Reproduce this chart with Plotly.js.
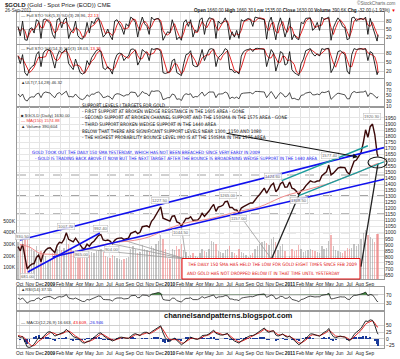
<!DOCTYPE html>
<html><head><meta charset="utf-8">
<script src="https://cdn.plot.ly/plotly-3.0.1.min.js"></script>
<style>html,body{margin:0;padding:0;background:#fff;}#chart{width:400px;height:359px;}</style>
</head><body><div id="chart"></div>
<script>
// ---------- DATA (weekly samples) ----------
const price = [885,850,905,790,700,725,740,745,795,815,760,825,855,872,
875,855,835,895,920,915,945,1000,945,935,925,955,925,898,872,870,905,888,915,930,955,978,985,940,935,940,930,910,937,952,955,957,945,952,955,995,1006,1012,992,1003,1050,1052,1057,1045,1095,1117,1147,1180,1215,1120,1110,1104,
1096,1137,1140,1090,1082,1055,1093,1118,1118,1133,1103,1104,1104,1125,1161,1136,1155,1180,1210,1235,1177,1212,1218,1227,1257,1260,1209,1210,1190,1188,1165,1204,1216,1228,1237,1247,1246,1275,1296,1317,1345,1370,1327,1357,1394,1410,1340,1362,1406,1420,1377,1380,1420,
1369,1361,1342,1315,1348,1360,1388,1409,1429,1421,1419,1428,1429,1473,1486,1504,1560,1480,1493,1511,1536,1542,1541,1539,1500,1486,1541,1592,1602,1628,1663,1745,1852,1790,1878,1900,1813,1657,1630];
const volumeK = [320,300,360,340,380,300,260,240,280,220,240,230,200,150,
160,220,240,260,280,250,270,340,300,260,240,250,230,240,250,200,220,210,230,220,240,250,260,230,200,190,180,210,200,180,170,160,170,180,190,260,280,260,220,230,290,260,250,240,280,270,300,330,380,340,260,180,
170,260,250,280,260,300,250,230,200,210,220,200,190,220,260,240,230,260,330,320,300,240,230,220,250,260,280,230,220,210,260,230,220,210,190,210,220,260,280,300,320,330,310,290,340,360,320,250,280,300,240,180,200,
260,240,250,290,260,230,240,250,260,250,240,230,220,280,260,270,330,380,280,250,240,230,220,240,270,260,270,300,280,300,340,400,420,380,360,340,320,390,390];
const sto5K = [60,25,80,10,8,50,55,35,85,80,15,85,88,80,
70,30,15,85,90,55,85,92,15,40,45,80,25,15,12,30,75,35,80,70,90,92,55,20,30,50,25,10,80,85,70,55,30,70,60,95,88,75,20,65,95,70,60,30,95,85,88,90,70,8,25,40,
35,85,55,10,20,8,75,85,60,85,20,45,40,85,92,30,75,92,90,85,15,80,70,75,92,70,10,40,20,45,15,85,80,85,90,85,60,95,92,90,88,85,12,75,95,45,10,65,92,60,20,50,92,
10,30,15,10,75,70,90,90,92,45,55,75,45,95,85,90,95,8,55,75,92,80,60,55,10,15,92,95,80,88,90,85,95,30,90,60,35,5,28.96];
const sto5D = [55,42,52,45,15,30,50,48,58,75,55,55,80,85,
78,55,35,45,70,75,70,78,60,45,35,55,50,40,20,20,40,50,60,65,78,88,78,55,32,38,35,25,40,65,80,70,50,52,55,75,88,85,60,45,70,80,70,50,60,80,88,88,82,45,30,28,
35,55,70,45,25,15,35,65,75,75,55,38,38,55,78,65,55,70,88,88,58,45,60,75,80,80,50,30,25,32,28,45,75,82,85,88,78,78,88,92,90,88,55,45,70,75,40,35,65,78,50,38,60,
55,28,20,15,35,60,78,88,90,75,55,60,62,65,88,88,90,55,30,55,75,85,75,62,40,20,45,80,88,85,88,88,88,65,60,75,55,30,22.13];
const sto14K = [70,45,75,15,5,25,35,40,75,85,35,80,90,92,
88,60,30,70,88,80,88,95,45,35,25,60,35,15,10,15,55,40,65,75,88,92,85,30,25,35,25,10,55,75,80,78,55,65,70,92,94,88,40,55,92,85,80,55,95,92,95,94,85,15,12,15,
20,55,60,15,10,5,45,75,78,88,40,35,35,65,92,55,75,92,95,92,35,65,72,80,95,90,25,25,15,18,10,70,85,90,92,95,85,95,96,95,94,92,35,65,92,80,20,45,85,80,40,45,85,
25,15,10,5,45,60,88,92,95,78,70,78,70,95,92,95,96,15,30,55,85,88,80,75,20,10,75,95,92,94,95,92,95,55,85,80,40,8,18.03];
const sto14D = [72,60,62,45,30,15,22,33,50,67,65,67,68,88,
90,80,60,55,62,80,85,88,75,58,35,40,40,35,20,13,27,37,53,60,76,85,88,68,47,30,28,23,30,47,70,78,70,66,63,76,85,91,72,60,62,78,85,73,77,80,94,94,91,65,37,14,
16,30,45,43,28,10,20,42,66,80,68,55,37,45,64,70,74,74,87,93,74,64,57,72,82,88,70,47,22,19,14,33,55,82,89,92,91,92,92,95,95,94,74,64,64,79,64,48,50,70,68,55,57,
52,42,17,10,20,37,64,80,92,88,81,75,73,81,86,94,94,69,47,33,57,76,84,81,58,35,35,60,87,94,94,94,94,81,78,73,68,43,13.36];
const ult = [55,45,55,35,30,42,45,44,55,58,42,58,62,60,
58,48,42,56,60,52,58,65,45,46,44,55,45,38,35,40,52,46,55,54,60,62,55,42,44,48,44,36,52,56,55,52,47,52,52,62,62,60,45,52,64,58,56,48,66,64,66,66,60,35,38,42,
42,55,52,36,38,32,50,56,53,56,42,46,45,55,62,48,55,62,62,62,42,55,55,56,62,58,38,44,40,44,38,56,58,58,60,60,55,64,64,64,62,62,42,55,64,52,38,50,60,55,44,48,60,
38,40,36,34,50,52,58,60,62,52,52,55,52,62,60,62,66,36,46,52,58,56,54,52,38,38,58,64,60,62,62,62,66,46,58,55,46,40,46.32];
const rsi = [55,48,55,40,30,38,42,42,52,55,45,56,60,62,
62,55,50,58,62,60,64,72,55,52,50,55,48,42,38,38,48,45,52,55,60,65,63,48,47,48,46,40,50,55,55,55,50,52,53,66,68,68,56,58,70,69,68,62,74,76,79,82,78,48,45,44,
43,54,54,42,40,35,47,53,53,56,47,47,47,53,62,55,59,64,68,70,54,60,61,62,67,66,50,50,46,46,42,54,57,59,61,62,61,67,70,72,74,75,58,64,70,66,50,55,63,62,53,54,62,
48,46,42,37,47,50,57,61,64,61,60,61,61,68,70,72,78,50,52,55,60,61,60,60,50,47,60,68,68,71,74,78,84,66,72,70,56,38,37.55];
const macd = [10,5,8,-10,-30,-32,-28,-20,-8,5,0,8,18,25,
26,20,10,14,20,22,25,35,28,18,8,6,2,-6,-14,-16,-10,-8,-2,4,12,20,22,12,5,0,-3,-8,-4,2,5,6,3,2,2,10,16,19,14,12,20,24,24,18,26,32,38,44,48,22,4,-6,
-10,-2,2,-6,-14,-22,-16,-6,0,6,2,-1,-2,3,12,12,14,18,26,32,20,16,14,14,18,20,6,-2,-8,-12,-16,-8,-2,4,8,12,12,16,22,28,34,40,28,24,28,30,14,10,14,18,10,6,10,
2,-6,-14,-22,-16,-8,2,10,18,18,14,12,10,18,24,28,38,20,8,4,8,10,8,6,-2,-8,2,16,24,30,38,52,66,64,70,68,50,24,16.663];
const signal = [12,9,8,2,-10,-20,-26,-25,-18,-8,-3,3,10,18,
23,23,18,15,16,19,22,28,29,24,16,10,5,-1,-8,-13,-12,-10,-6,-1,6,13,18,16,10,4,0,-4,-5,-2,2,4,4,3,2,5,10,15,15,13,16,20,22,20,22,27,33,39,44,34,18,5,
-3,-3,-1,-3,-8,-15,-16,-11,-5,1,2,1,-1,1,6,10,12,15,21,27,24,20,16,15,16,18,12,4,-2,-7,-12,-10,-6,-1,4,8,10,13,18,23,29,35,32,28,28,29,21,15,14,16,13,9,9,
5,-1,-8,-15,-16,-12,-5,3,11,15,15,13,11,14,19,24,31,26,17,10,9,9,9,7,3,-3,-1,8,16,23,31,42,54,60,65,67,58,44,43.609];
const smaDates = ['2008-10-01','2008-11-01','2008-12-01','2009-01-01','2009-02-01','2009-03-01','2009-04-01','2009-05-01','2009-06-01','2009-07-01','2009-08-01','2009-09-01','2009-10-01','2009-11-01','2009-12-01','2010-01-01','2010-02-01','2010-03-01','2010-04-01','2010-05-01','2010-06-01','2010-07-01','2010-08-01','2010-09-01','2010-10-01','2010-11-01','2010-12-01','2011-01-01','2011-02-01','2011-03-01','2011-04-01','2011-05-01','2011-06-01','2011-07-01','2011-08-01','2011-09-01','2011-09-26'];
const sma150 = [905,880,830,822,820,835,852,868,892,912,924,932,945,968,1002,1038,1068,1088,1100,1115,1135,1158,1178,1195,1215,1250,1288,1318,1340,1362,1385,1410,1443,1473,1503,1548,1575];
// trend lines (end points)
const upperWedgeDates = ['2008-10-02','2011-10-14'], upperWedgeVals = [940,1705];
const lowerWedgeDates = ['2009-01-10','2011-10-14'], lowerWedgeVals = [799,1443];
const steepLineDates = ['2008-10-26','2009-06-02'], steepLineVals = [675,998];
const upperTealDates = ['2010-12-07','2011-08-26'], upperTealVals = [1431,1720];
const lowerTealDates = ['2011-01-28','2011-10-14'], lowerTealVals = [1308,1587];
const supportLevels = [1478,1308,1157,1000];
const fanTouchDates = ['2009-04-06','2009-07-08','2009-08-17','2010-02-05','2010-07-28','2011-01-28','2011-09-26'];
const fanTouchVals = [868,908,935,1048,1160,1310,1577];
const fanAnchorDates = ['2010-02-19','2010-02-19','2010-02-19','2010-02-19','2010-11-06','2010-11-06','2011-08-05'];
const fanAnchorVals = [782,782,782,782,782,782,720];
const fanColors = ['#9a9a9a','#9a9a9a','#9a9a9a','#9a9a9a','#9a9a9a','#222','#222'];
const pivotDates = ['2008-10-10','2008-10-24','2009-02-20','2009-04-06','2009-06-03','2009-07-08','2009-12-03','2010-02-05','2010-06-28','2010-07-28','2010-11-09','2011-01-28','2011-05-02','2011-09-06'];
const pivotVals = [930.5,681,1007.7,865,992.4,904,1227.5,1044.5,1265,1157,1424.6,1308.5,1577.4,1920.3];
const pivotAbove = [1,0,1,0,1,0,1,0,1,0,1,0,1,1];
const priceTicks = [650,700,750,800,850,900,950,1000,1050,1100,1150,1200,1250,1300,1350,1400,1450,1500,1550,1600,1650,1700,1750,1800,1850,1900,1950];
const volTicks = [100000,200000,300000,400000,500000], volTickText = ['100K','200K','300K','400K','500K'];
const monthNames = ['2009','Feb','Mar','Apr','May','Jun','Jul','Aug','Sep','Oct','Nov','Dec'];
const supportText = ['SUPPORT LEVELS / TARGETS FOR GOLD',
 '- FIRST SUPPORT AT BROKEN WEDGE RESISTANCE IN THE 1605 AREA - GONE',
 '- SECOND SUPPORT AT BROKEN CHANNEL SUPPORT AND THE 150SMA IN THE 1575 AREA - GONE',
 '- THIRD SUPPORT BROKEN WEDGE SUPPORT IN THE 1440 AREA',
 'BELOW THAT THERE ARE SIGNIFICANT SUPPORT LEVELS NEAR 1300, 1150 AND 1080',
 '- THE HIGHEST PROBABILITY BOUNCE LEVEL IMO IS AT THE 150SMA IN THE 1575 AREA'];
const blueText = ['GOLD TOOK OUT THE DAILY 150 SMA YESTERDAY, WHICH HAS NOT BEEN BREACHED SINCE VERY EARLY IN 2009',
 '- GOLD IS TRADING BACK ABOVE IT NOW BUT THE NEXT TARGET AFTER THE BOUNCE IS BROADENING WEDGE SUPPORT IN THE 1440 AREA'];
const redText = ['THE DAILY 150 SMA HAS HELD THE LOW FOR GOLD EIGHT TIMES SINCE FEB 2009',
 'AND GOLD HAS NOT DROPPED BELOW IT IN THAT TIME UNTIL YESTERDAY'];

// ---------- dates ----------
const dates = [];
{ let d = Date.UTC(2008,8,26); for (let i=0;i<157;i++){ dates.push(new Date(d).toISOString().slice(0,10)); d += 7*864e5; } dates.push('2011-09-26'); }
const monthTicks = [], monthLabels = [];
for (let k=0;k<36;k++){ const m=(9+k)%12, y=2008+Math.floor((9+k)/12); monthTicks.push(y+'-'+String(m+1).padStart(2,'0')+'-01'); monthLabels.push(m===0?'<b>'+y+'</b>':monthNames[m]); }
const xRange = ['2008-09-23','2011-10-14'];
const H=359, L=17, W=367;
const px = x => (x-L)/W, py = y => 1-y/H;
const dom = (t,b) => [py(b), py(t)];

const NARROW = 'Liberation Sans Narrow, DejaVu Sans Condensed, Arial Narrow, sans-serif';
const SANS = 'Liberation Sans, Arial, sans-serif';

function mkX(anchor, labels){ return {type:'date', range:xRange, anchor, tickvals:monthTicks, ticktext:monthLabels,
 showticklabels:labels, ticks:'', ticklen:0, tickangle:0, showgrid:true, gridcolor:'#e3e3e3', gridwidth:1, showline:true, mirror:true,
 linecolor:'#999', linewidth:1, tickfont:{size:4.8,color:'#222'}, zeroline:false, fixedrange:true}; }
function mkY(anchor, domain, range, tickvals, extra){ return Object.assign({anchor, domain, range, tickvals, side:'right',
 ticks:'', ticklen:0, showgrid:true, gridcolor:'#cfcfcf', gridwidth:1, showline:true, mirror:true, linecolor:'#999', linewidth:1,
 zeroline:false, tickfont:{size:5,color:'#222'}, fixedrange:true}, extra||{}); }

const traces = [];
traces.push({x:dates,y:sto5D,xaxis:'x',yaxis:'y',mode:'lines',line:{color:'#e01010',width:0.9},hoverinfo:'skip'});
traces.push({x:dates,y:sto5K,xaxis:'x',yaxis:'y',mode:'lines',line:{color:'#111',width:0.9},hoverinfo:'skip'});
traces.push({x:dates,y:sto14D,xaxis:'x2',yaxis:'y2',mode:'lines',line:{color:'#e01010',width:0.9},hoverinfo:'skip'});
traces.push({x:dates,y:sto14K,xaxis:'x2',yaxis:'y2',mode:'lines',line:{color:'#111',width:0.9},hoverinfo:'skip'});
traces.push({x:dates,y:ult,xaxis:'x3',yaxis:'y3',mode:'lines',line:{color:'#222',width:0.8},hoverinfo:'skip'});
const volColors = price.map((p,i)=> i>0 && p<price[i-1] ? 'rgba(235,120,120,0.55)' : 'rgba(140,140,140,0.5)');
traces.push({type:'bar',x:dates,y:volumeK.map(v=>v*1000),xaxis:'x4',yaxis:'y4',marker:{color:volColors,line:{width:0}},width:4*864e5,hoverinfo:'skip'});
for (let i=0;i<fanTouchDates.length;i++)
 traces.push({x:[fanTouchDates[i],fanAnchorDates[i]],y:[fanTouchVals[i],fanAnchorVals[i]],xaxis:'x4',yaxis:'y7',mode:'lines',line:{color:fanColors[i],width:i>=5?1.3:0.8},hoverinfo:'skip'});
traces.push({x:dates,y:price,xaxis:'x4',yaxis:'y7',mode:'lines',line:{color:'#3a0808',width:1.4},hoverinfo:'skip'});
traces.push({x:smaDates,y:sma150,xaxis:'x4',yaxis:'y7',mode:'lines',line:{color:'#f08a8a',width:1,shape:'spline'},hoverinfo:'skip'});
traces.push({x:upperWedgeDates,y:upperWedgeVals,xaxis:'x4',yaxis:'y7',mode:'lines',line:{color:'#1010ee',width:1.6},hoverinfo:'skip'});
traces.push({x:lowerWedgeDates,y:lowerWedgeVals,xaxis:'x4',yaxis:'y7',mode:'lines',line:{color:'#1010ee',width:1.6},hoverinfo:'skip'});
traces.push({x:steepLineDates,y:steepLineVals,xaxis:'x4',yaxis:'y7',mode:'lines',line:{color:'#1010ee',width:1.6},hoverinfo:'skip'});
traces.push({x:upperTealDates,y:upperTealVals,xaxis:'x4',yaxis:'y7',mode:'lines',line:{color:'#1a9c9c',width:1.4},hoverinfo:'skip'});
traces.push({x:lowerTealDates,y:lowerTealVals,xaxis:'x4',yaxis:'y7',mode:'lines',line:{color:'#1a9c9c',width:1.4},hoverinfo:'skip'});
traces.push({x:dates,y:dates.map(()=>70),xaxis:'x5',yaxis:'y5',mode:'lines',line:{color:'#888',width:0.6},hoverinfo:'skip'});
traces.push({x:dates,y:rsi.map(v=>Math.max(v,70)),xaxis:'x5',yaxis:'y5',mode:'lines',fill:'tonexty',fillcolor:'#3d8a3d',line:{width:0,color:'#3d8a3d'},hoverinfo:'skip'});
traces.push({x:dates,y:rsi,xaxis:'x5',yaxis:'y5',mode:'lines',line:{color:'#222',width:0.8},hoverinfo:'skip'});
traces.push({type:'bar',x:dates,y:macd.map((v,i)=>v-signal[i]),xaxis:'x6',yaxis:'y6',marker:{color:'#1a3a9a',line:{width:0}},width:6*864e5,hoverinfo:'skip'});
traces.push({x:dates,y:signal,xaxis:'x6',yaxis:'y6',mode:'lines',line:{color:'#e01010',width:0.9},hoverinfo:'skip'});
traces.push({x:dates,y:macd,xaxis:'x6',yaxis:'y6',mode:'lines',line:{color:'#111',width:0.9},hoverinfo:'skip'});

const ann = [];
function t(x,y,text,size,color,opts){ ann.push(Object.assign({xref:'paper',yref:'paper',x:px(x),y:py(y),text,showarrow:false,xanchor:'left',yanchor:'middle',font:{size,color,family:SANS}},opts||{})); }
t(3,4.5,'<b>$GOLD</b> (Gold - Spot Price (EOD)) CME',6,'#222');
t(3,11,'26-Sep-2011',4.6,'#333');
t(398,3.5,'©StockCharts.com',4.6,'#666',{xanchor:'right'});
t(398,10.5,'<b>Open</b> 1660.00 <b>High</b> 1660.30 <b>Low</b> 1535.00 <b>Close</b> 1630.00 <b>Volume</b> 390.6K <b>Chg</b> -32.00 (-1.93%) <span style="color:#e00">▼</span>',4.6,'#222',{xanchor:'right'});
t(19,15.5,'— Full STO %K(5,3) %D(3) 28.96, <span style="color:#e00">22.13</span>',4.3,'#333');
t(19,48.5,'— Full STO %K(14,3) %D(3) 18.03, <span style="color:#e00">13.36</span>',4.3,'#333');
t(19,82,'▲ULT(7,14,28) 46.32',4.3,'#333');
t(19,115,'■ $GOLD (Daily) 1630.00',4.3,'#333');
t(19,120.5,'— MA(150) 1574.88',4.3,'#e33');
t(19,126,'▲ Volume 390,604',4.3,'#333');
t(19,289.5,'▲RSI(14) 37.55',4.3,'#333');
t(19,322,'— MACD(12,26,9) 16.663, <span style="color:#e00">43.609</span>, <span style="color:#22d">-26.946</span>',4.3,'#333');
t(228,315.5,'<b>channelsandpatterns.blogspot.com</b>',7.6,'#111',{xanchor:'center'});
const supY=[105,111.5,118,124.5,131,137.5];
const FS = 4.7;
supportText.forEach((s,i)=>t(80,supY[i],s,FS,'#111',{font:{size:FS,color:'#111',family:NARROW}}));
blueText.forEach((s,i)=>t(i?33:30,[152,158.5][i],s,4.5,'#1515ee',{font:{size:4.5,color:'#1515ee',family:NARROW}}));
redText.forEach((s,i)=>t(185,[264,273][i],s,4.6,'#e01010',{font:{size:4.6,color:'#e01010',family:NARROW}}));
pivotDates.forEach((d,i)=>ann.push({xref:'x4',yref:'y7',x:d,y:pivotVals[i],text:pivotVals[i].toFixed(2),showarrow:false,
 yshift:pivotAbove[i]?(i===12?7:5):-5,font:{size:4.2,color:'#666',family:SANS},bgcolor:'rgba(255,255,255,0.85)',bordercolor:'#bbb',borderwidth:0.5,borderpad:0.5}));
ann.push({xref:'paper',yref:'paper',x:px(358),y:py(157),ax:225-358,ay:133-157,text:'',showarrow:true,arrowhead:2,arrowsize:0.9,arrowwidth:1.1,arrowcolor:'#111'});

const shapes = [];
supportLevels.forEach(v=>shapes.push({type:'line',xref:'paper',yref:'y7',x0:0,x1:1,y0:v,y1:v,line:{color:'#8a8a8a',width:0.8,dash:'dash'},layer:'below'}));
shapes.push({type:'rect',xref:'paper',yref:'paper',x0:px(182),x1:px(360),y0:py(279),y1:py(258.5),fillcolor:'#fff',line:{color:'#e01010',width:1},layer:'above'});
shapes.push({type:'circle',xref:'paper',yref:'paper',x0:px(368),x1:px(387),y0:py(168),y1:py(157),line:{color:'#111',width:1.1},layer:'above'});

const layout = {width:400,height:359,margin:{l:L,r:400-L-W,t:0,b:0},paper_bgcolor:'#fff',plot_bgcolor:'#fff',showlegend:false,
 font:{family:SANS,size:5,color:'#222'}, bargap:0,
 xaxis:mkX('y',false), xaxis2:mkX('y2',false), xaxis3:mkX('y3',false), xaxis4:mkX('y4',true), xaxis5:mkX('y5',false), xaxis6:mkX('y6',true),
 yaxis:mkY('x',dom(12,44),[-6,114],[20,50,80]),
 yaxis2:mkY('x2',dom(45,78),[-3,107],[20,50,80]),
 yaxis3:mkY('x3',dom(79,107),[9,108],[10,30,50,70,90],{showgrid:false}),
 yaxis4:mkY('x4',dom(107,279),[0,1480000],volTicks,{side:'left',ticktext:volTickText,showgrid:false}),
 yaxis7:{overlaying:'y4',anchor:'x4',side:'right',range:[617,2041],tickvals:priceTicks,ticks:'',ticklen:0,showgrid:true,gridcolor:'#e6e6e6',zeroline:false,tickfont:{size:5,color:'#222'},showline:false,fixedrange:true},
 yaxis5:mkY('x5',dom(287,310),[-4,109],[30,70]),
 yaxis6:mkY('x6',dom(312,348),[-34,99],[-25,0,25,50]),
 annotations:ann, shapes};
Plotly.newPlot('chart',traces,layout,{staticPlot:true,displayModeBar:false});
</script></body></html>
